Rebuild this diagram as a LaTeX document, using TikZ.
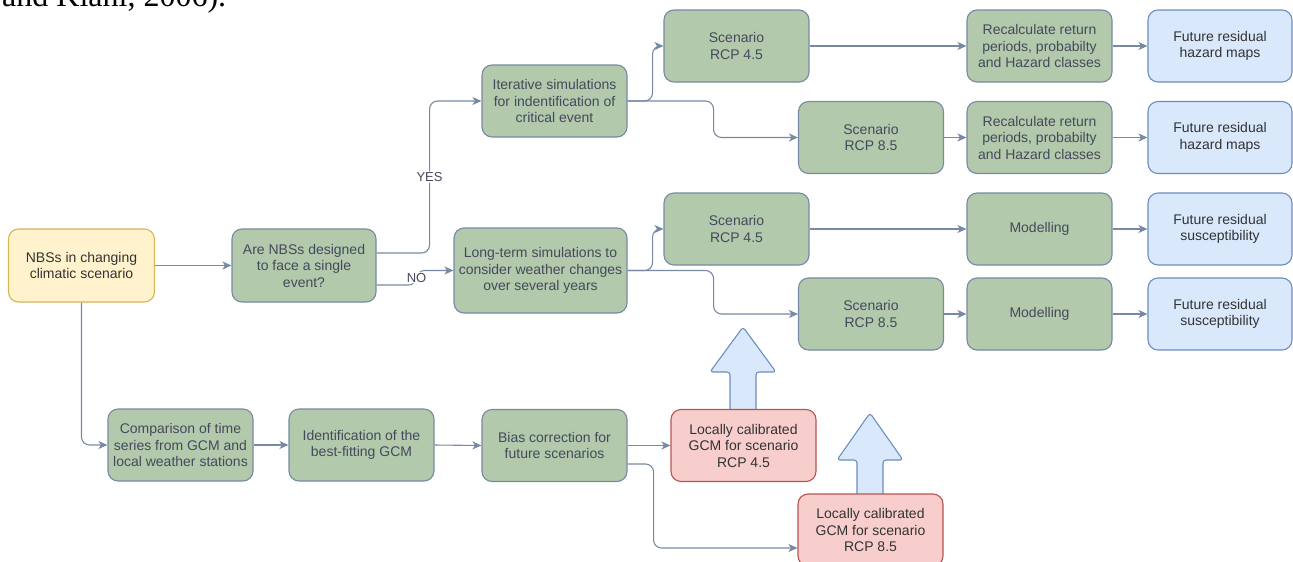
\documentclass[tikz,border=0pt]{standalone}
\usepackage{fontspec}
\setmainfont{Liberation Sans}
\newfontfamily\citefont{Liberation Serif}
\usetikzlibrary{arrows.meta,calc}
\definecolor{sagefill}{HTML}{B2C9AB}
\definecolor{sagestroke}{HTML}{788AA3}
\definecolor{sagetext}{HTML}{46495D}
\definecolor{yelfill}{HTML}{FFF2CC}
\definecolor{yelstroke}{HTML}{D6B656}
\definecolor{bluefill}{HTML}{DAE8FC}
\definecolor{bluestroke}{HTML}{6C8EBF}
\definecolor{redfill}{HTML}{F8CECC}
\definecolor{redstroke}{HTML}{B85450}
\definecolor{darktext}{HTML}{333333}
\tikzset{
  box/.style={rectangle, rounded corners=10pt, draw, line width=1.1pt,
    minimum width=145pt, minimum height=72pt, inner sep=2pt, align=center},
  gbox/.style={box, fill=sagefill, draw=sagestroke, text=sagetext},
  ybox/.style={box, fill=yelfill, draw=yelstroke, text=darktext},
  bbox/.style={box, fill=bluefill, draw=bluestroke, text=darktext},
  rbox/.style={box, fill=redfill, draw=redstroke, text=darktext},
  conn/.style={draw=sagestroke, line width=1.1pt, rounded corners=8pt,
    -{Stealth[length=9pt,width=8pt,inset=2.5pt]}},
  lbl/.style={fill=white, text=sagetext, font=\fontsize{13}{15}\selectfont, inner sep=1pt},
  blockarrow/.style={fill=bluefill, draw=bluestroke, line width=1.1pt, rounded corners=3pt}
}
\begin{document}
\begin{tikzpicture}[x=1pt, y=-1pt, font=\fontsize{14}{16.5}\selectfont]
\useasboundingbox (0,0) rectangle (1293,562);

% cropped citation text at top
\node[anchor=base west, inner sep=0, font=\citefont\fontsize{32}{36}\selectfont] (cite) at (2,6.5) {and Kiani, 2006).};

% block arrows (drawn first, boxes cover their feet)
\draw[blockarrow] (730,412) -- (730,372) -- (710,372) -- (743,327) -- (776,372) -- (756,372) -- (756,412) -- cycle;
\draw[blockarrow] (857,497) -- (857,460) -- (837,460) -- (870,413) -- (903,460) -- (883,460) -- (883,497) -- cycle;

% nodes
\node[ybox, minimum width=146pt, minimum height=73pt] (nbs) at (81.5,265.5) {NBSs in changing\\climatic scenario};
\node[gbox, minimum width=144pt, minimum height=73pt] (q) at (304,265.5) {Are NBSs designed\\to face a single\\event?};
\node[gbox] (iter) at (554.5,101) {Iterative simulations\\for indentification of\\critical event};
\node[gbox, minimum width=173pt, minimum height=85pt] (long) at (540.5,270.5) {Long-term simulations to\\consider weather changes\\over several years};

\node[gbox] (s1) at (736.5,46) {Scenario\\RCP 4.5};
\node[gbox] (s2) at (871,137.5) {Scenario\\RCP 8.5};
\node[gbox] (s3) at (736.5,229) {Scenario\\RCP 4.5};
\node[gbox] (s4) at (871,314) {Scenario\\RCP 8.5};

\node[gbox] (r1) at (1039.5,46) {Recalculate return\\periods, probabilty\\and Hazard classes};
\node[gbox] (r2) at (1039.5,137.5) {Recalculate return\\periods, probabilty\\and Hazard classes};
\node[gbox] (m1) at (1039.5,229) {Modelling};
\node[gbox] (m2) at (1039.5,314) {Modelling};

\node[bbox, minimum width=144pt] (f1) at (1220,46) {Future residual\\hazard maps};
\node[bbox, minimum width=144pt] (f2) at (1220,137.5) {Future residual\\hazard maps};
\node[bbox, minimum width=144pt] (fs1) at (1220,229) {Future residual\\susceptibility};
\node[bbox, minimum width=144pt] (fs2) at (1220,314) {Future residual\\susceptibility};

\node[gbox] (cmp) at (180.5,445) {Comparison of time\\series from GCM and\\local weather stations};
\node[gbox] (idn) at (361.5,445) {Identification of the\\best-fitting GCM};
\node[gbox] (bias) at (554.5,445.5) {Bias correction for\\future scenarios};
\node[rbox] (l4) at (743.5,445.5) {Locally calibrated\\GCM for scenario\\RCP 4.5};
\node[rbox] (l8) at (870.5,530) {Locally calibrated\\GCM for scenario\\RCP 8.5};

% connectors
\draw[conn] (nbs.east) -- (q.west);
\draw[conn] ([yshift=12.5pt]q.east) -- ++(53,0) |- node[lbl, pos=0.25] {YES} (iter.west);
\draw[conn] ([yshift=-19.5pt]q.east) -- ++(40,0) |- node[lbl, pos=0.25] {NO} (long.west);

\draw[conn] (iter.east) -- ++(25,0) |- (s1.west);
\draw[conn] (iter.east) -- ++(86,0) |- (s2.west);
\draw[conn] (long.east) -- ++(25,0) |- (s3.west);
\draw[conn] (long.east) -- ++(86,0) |- (s4.west);

\draw[conn] (s1.east) -- (r1.west);
\draw[conn] (s2.east) -- (r2.west);
\draw[conn] (s3.east) -- (m1.west);
\draw[conn] (s4.east) -- (m2.west);
\draw[conn] (r1.east) -- (f1.west);
\draw[conn] (r2.east) -- (f2.west);
\draw[conn] (m1.east) -- (fs1.west);
\draw[conn] (m2.east) -- (fs2.west);

\draw[conn] (nbs.south) |- (cmp.west);
\draw[conn] (cmp.east) -- (idn.west);
\draw[conn] (idn.east) -- (bias.west);
\draw[conn] (bias.east) -- (l4.west);
\draw[conn] ([yshift=-18.5pt]bias.east) -- ++(26,0) |- ([yshift=-18pt]l8.west);
\end{tikzpicture}
\end{document}
